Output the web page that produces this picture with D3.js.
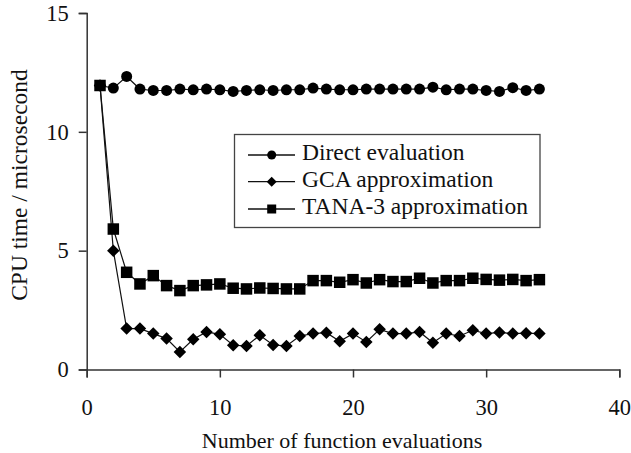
<!DOCTYPE html>
<html>
<head>
<meta charset="utf-8">
<script src="https://cdn.jsdelivr.net/npm/d3@7"></script>
<style>
  html, body { margin: 0; padding: 0; background: #fff; }
  svg { display: block; }
  text { font-family: "Liberation Serif", "Times New Roman", serif; fill: #111; }
</style>
</head>
<body>
<svg id="chart" width="631" height="453"></svg>
<script>
const evaluations = d3.range(1, 35);
const directValues = [11.95, 11.84, 12.33, 11.80, 11.74, 11.74, 11.80, 11.77, 11.80, 11.77,
  11.70, 11.74, 11.77, 11.74, 11.77, 11.77, 11.84, 11.80, 11.77, 11.77,
  11.80, 11.80, 11.80, 11.80, 11.80, 11.88, 11.77, 11.80, 11.80, 11.74,
  11.70, 11.86, 11.74, 11.80];
const gcaValues = [11.95, 5.00, 1.72, 1.72, 1.51, 1.30, 0.74, 1.27, 1.58, 1.48,
  1.02, 0.99, 1.44, 1.03, 0.99, 1.41, 1.51, 1.55, 1.19, 1.51,
  1.16, 1.69, 1.51, 1.51, 1.58, 1.13, 1.51, 1.41, 1.65, 1.51,
  1.56, 1.51, 1.53, 1.51];
const tanaValues = [11.95, 5.91, 4.09, 3.60, 3.95, 3.53, 3.32, 3.53, 3.56, 3.60,
  3.42, 3.39, 3.43, 3.41, 3.39, 3.39, 3.74, 3.74, 3.67, 3.78,
  3.64, 3.78, 3.70, 3.70, 3.84, 3.64, 3.74, 3.74, 3.84, 3.79,
  3.76, 3.79, 3.74, 3.78];
const seriesNames = ["Direct evaluation", "GCA approximation", "TANA-3 approximation"];
const xTicks = [0, 10, 20, 30, 40];
const yTicks = [0, 5, 10, 15];
const xTitle = "Number of function evaluations";
const yTitle = "CPU time / microsecond";

const svg = d3.select("#chart");
const x = d3.scaleLinear().domain([0, 40]).range([86.7, 619.3]);
const y = d3.scaleLinear().domain([0, 15]).range([369.5, 13]);

const axisColor = "#333";

// axes
const xAxis = svg.append("g").attr("transform", `translate(0,${y(0)})`)
  .call(d3.axisBottom(x).tickValues(xTicks).tickSize(8));
const yAxis = svg.append("g").attr("transform", `translate(${x(0)},0)`)
  .call(d3.axisLeft(y).tickValues(yTicks).tickSize(8).tickPadding(10));
[xAxis, yAxis].forEach(a => {
  a.select(".domain").attr("stroke", axisColor).attr("stroke-width", 1.5);
  a.selectAll(".tick line").attr("stroke", axisColor).attr("stroke-width", 1.5);
  a.selectAll(".tick text").style("font-family", '"Liberation Serif", serif')
    .style("font-size", "22.5px").attr("fill", "#111");
});
xAxis.selectAll(".tick text").attr("y", 45).attr("dy", 0);

// titles
svg.append("text").attr("x", 342).attr("y", 448).attr("text-anchor", "middle")
  .style("font-size", "22px").text(xTitle);
svg.append("text").attr("transform", "translate(22,185) rotate(-90)")
  .attr("text-anchor", "middle").attr("dominant-baseline", "middle")
  .style("font-size", "23.5px").text(yTitle);

const line = d3.line().x((d, i) => x(evaluations[i])).y(d => y(d));

const symbols = [
  d3.symbol().type(d3.symbolCircle).size(Math.PI * 5.5 * 5.5),
  d3.symbol().type(d3.symbolDiamond2).size(Math.pow(12.5 / 1.2525, 2)),
  d3.symbol().type(d3.symbolSquare).size(11.5 * 11.5)
];
const legendSymbols = [
  d3.symbol().type(d3.symbolCircle).size(Math.PI * 4.5 * 4.5),
  d3.symbol().type(d3.symbolDiamond2).size(Math.pow(10 / 1.2525, 2)),
  d3.symbol().type(d3.symbolSquare).size(9 * 9)
];
const allSeries = [directValues, gcaValues, tanaValues];

const order = [1, 0, 2];
order.forEach(k => {
  svg.append("path").datum(allSeries[k]).attr("d", line).attr("fill", "none")
    .attr("stroke", "#111").attr("stroke-width", 1.2);
});
order.forEach(k => {
  svg.append("g").selectAll("path").data(allSeries[k]).join("path")
    .attr("d", symbols[k]())
    .attr("transform", (d, i) => `translate(${x(evaluations[i])},${y(d)})`)
    .attr("fill", "#000");
});

// legend
const legend = svg.append("g");
legend.append("rect").attr("x", 234.5).attr("y", 134.5).attr("width", 305.5).attr("height", 93)
  .attr("fill", "#fff").attr("stroke", "#444").attr("stroke-width", 1.3);
const rowsY = [155, 181.7, 209];
seriesNames.forEach((name, k) => {
  const g = legend.append("g").attr("transform", `translate(0,${rowsY[k]})`);
  g.append("line").attr("x1", 248).attr("x2", 295).attr("y1", 0).attr("y2", 0)
    .attr("stroke", "#111").attr("stroke-width", 1.3);
  g.append("path").attr("d", legendSymbols[k]()).attr("transform", "translate(271.7,0)").attr("fill", "#000");
  g.append("text").attr("x", 302).attr("y", 0).attr("dominant-baseline", "middle")
    .style("font-size", "23.5px").text(name);
});
</script>
</body>
</html>
